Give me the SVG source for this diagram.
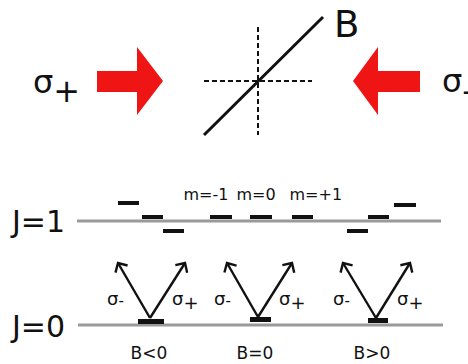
<svg xmlns="http://www.w3.org/2000/svg" width="468" height="364" viewBox="0 0 468 364">
<style>
text{font-family:"DejaVu Sans","Liberation Sans",sans-serif;fill:#111}
.beam{fill:#ef1515}
.lvl{stroke:#9a9a9a;stroke-width:3;fill:none}
.bar{fill:#111}
.tr{stroke:#111;stroke-width:2.4;fill:none;marker-end:url(#ah)}
.dash{stroke:#111;stroke-width:2;stroke-dasharray:5 3;fill:none}
.sig{font-size:18px}
.m{font-size:16px}
.b{font-size:17px}
.J{font-size:30px}
</style>
<defs>
<marker id="ah" markerUnits="userSpaceOnUse" markerWidth="20" markerHeight="20" viewBox="-10 -10 20 20" refX="0" refY="0" orient="auto">
<path d="M-7,-7 L0,0 L-7,7" fill="none" stroke="#111" stroke-width="2.4"/>
</marker>
</defs>

<g id="beam-plus">
<text x="33" y="93" font-size="32">σ<tspan dy="9">+</tspan></text>
<polygon class="beam" points="97,71 137,71 137,47 163,81 137,115 137,92 97,92"/>
</g>
<g id="beam-minus">
<polygon class="beam" points="420,71 378,71 378,47 353,81 378,115 378,92 420,92"/>
<text x="442" y="92" font-size="32">σ<tspan dy="10">-</tspan></text>
</g>
<g id="field">
<line class="dash" x1="204" y1="81" x2="312" y2="81"/>
<line class="dash" x1="258" y1="27" x2="258" y2="135"/>
<line x1="204" y1="135" x2="323" y2="17" stroke="#111" stroke-width="3"/>
<text x="334" y="37" font-size="37">B</text>
</g>

<g id="level-J1">
<text class="J" x="12" y="232">J=1</text>
<line class="lvl" x1="77" y1="221" x2="441" y2="221"/>
</g>
<g id="level-J0">
<text class="J" x="12" y="337">J=0</text>
<line class="lvl" x1="78" y1="325" x2="443" y2="325"/>
</g>

<g id="m-labels">
<text class="m" x="183.5" y="200">m=-1</text>
<text class="m" x="236.5" y="200">m=0</text>
<text class="m" x="289.5" y="200">m=+1</text>
</g>

<g id="B-neg">
<rect class="bar" x="118" y="201" width="21" height="4"/>
<rect class="bar" x="142" y="215" width="21" height="4"/>
<rect class="bar" x="163" y="229" width="21" height="4"/>
<rect class="bar" x="138" y="319" width="26" height="5"/>
<text class="sig" x="107" y="305">σ<tspan font-size="15" dy="1">-</tspan></text>
<text class="sig" x="172" y="305">σ<tspan dy="4">+</tspan></text>
<text class="b" x="130.5" y="359">B&lt;0</text>
</g>
<g id="B-zero">
<rect class="bar" x="210" y="215" width="22" height="4"/>
<rect class="bar" x="250" y="215" width="22" height="4"/>
<rect class="bar" x="292" y="215" width="21" height="4"/>
<rect class="bar" x="250" y="317" width="21" height="5"/>
<text class="sig" x="214" y="305">σ<tspan font-size="15" dy="1">-</tspan></text>
<text class="sig" x="279" y="305">σ<tspan dy="4">+</tspan></text>
<text class="b" x="236.5" y="359">B=0</text>
</g>
<g id="B-pos">
<rect class="bar" x="347" y="229" width="21" height="4"/>
<rect class="bar" x="368" y="215" width="21" height="4"/>
<rect class="bar" x="394" y="203" width="22" height="4"/>
<rect class="bar" x="368" y="318" width="20" height="5"/>
<text class="sig" x="333" y="305">σ<tspan font-size="15" dy="1">-</tspan></text>
<text class="sig" x="397" y="305">σ<tspan dy="4">+</tspan></text>
<text class="b" x="353.5" y="359">B&gt;0</text>
</g>

<g id="connectors">
<line class="tr" x1="150" y1="318" x2="118" y2="263"/>
<line class="tr" x1="150" y1="318" x2="185" y2="263"/>
<line class="tr" x1="258" y1="317" x2="227" y2="263"/>
<line class="tr" x1="258" y1="317" x2="292" y2="263"/>
<line class="tr" x1="376" y1="318" x2="343" y2="263"/>
<line class="tr" x1="376" y1="318" x2="410" y2="263"/>
</g>
</svg>
